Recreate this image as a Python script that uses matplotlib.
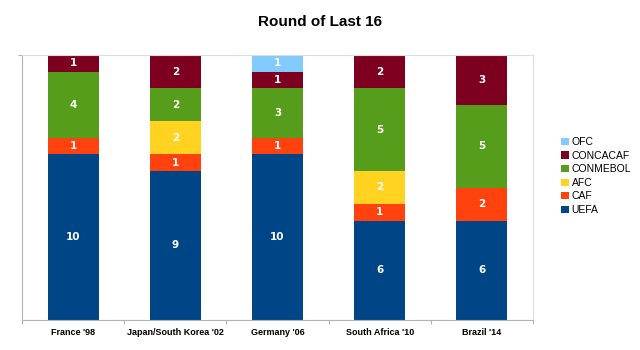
import matplotlib
matplotlib.use("Agg")
import matplotlib.pyplot as plt
from matplotlib.patches import Patch
import numpy as np

plt.rcParams['font.family'] = ['Liberation Sans', 'DejaVu Sans']

tournaments = ["France '98", "Japan/South Korea '02", "Germany '06",
               "South Africa '10", "Brazil '14"]

confederations = ["UEFA", "CAF", "AFC", "CONMEBOL", "CONCACAF", "OFC"]
uefa = [10, 9, 10, 6, 6]
caf = [1, 1, 1, 1, 2]
afc = [0, 2, 0, 2, 0]
conmebol = [4, 2, 3, 5, 5]
concacaf = [1, 2, 1, 2, 3]
ofc = [0, 0, 1, 0, 0]

colors = ["#004586", "#ff420e", "#ffd320", "#579d1c", "#7e0021", "#83caff"]

series = [uefa, caf, afc, conmebol, concacaf, ofc]

fig = plt.figure(figsize=(6.4, 3.5), dpi=100)
ax = fig.add_axes([22 / 640, 30 / 350, (533 - 22) / 640, (320 - 55) / 350])

x = np.arange(len(tournaments))
bottom = np.zeros(len(tournaments))
for name, vals, col in zip(confederations, series, colors):
    vals = np.array(vals, dtype=float)
    ax.bar(x, vals, width=0.5, bottom=bottom, color=col, label=name,
           edgecolor='none')
    for xi, b, v in zip(x, bottom, vals):
        if v > 0:
            ax.text(xi, b + v / 2, f"{int(v)}", ha='center', va='center',
                    color='white', fontsize=7.5, fontweight='bold',
                    family='DejaVu Sans')
    bottom += vals

ax.set_xlim(-0.5, len(tournaments) - 0.5)
ax.set_ylim(0, 16)

ax.set_xticks(x)
ax.set_xticklabels(tournaments, fontsize=6.5, fontweight='bold')
ax.set_xticks(np.arange(-0.5, len(tournaments)), minor=True)
ax.tick_params(axis='x', which='major', length=0, pad=6)
ax.tick_params(axis='x', which='minor', length=3, color='#b3b3b3', width=0.8)
ax.set_yticks([16])
ax.set_yticklabels([])
ax.tick_params(axis='y', length=3, color='#b3b3b3', width=0.8)

for side in ['left', 'bottom']:
    ax.spines[side].set_color('#b3b3b3')
    ax.spines[side].set_linewidth(0.8)
for side in ['top', 'right']:
    ax.spines[side].set_color('#dddddd')
    ax.spines[side].set_linewidth(0.8)

fig.text(0.5, 1 - 22 / 350, "Round of Last 16", ha='center', va='center',
         fontsize=11, fontweight='bold')

handles = [Patch(facecolor=c, edgecolor='none', label=n)
           for n, c in zip(confederations, colors)][::-1]
fig.legend(handles=handles, loc='center left',
           bbox_to_anchor=(556 / 640, 1 - 176 / 350), frameon=False,
           fontsize=7.5, handlelength=0.7, handleheight=0.7,
           handletextpad=0.3, labelspacing=0.35, borderpad=0)

fig.savefig("out.png", dpi=100)
